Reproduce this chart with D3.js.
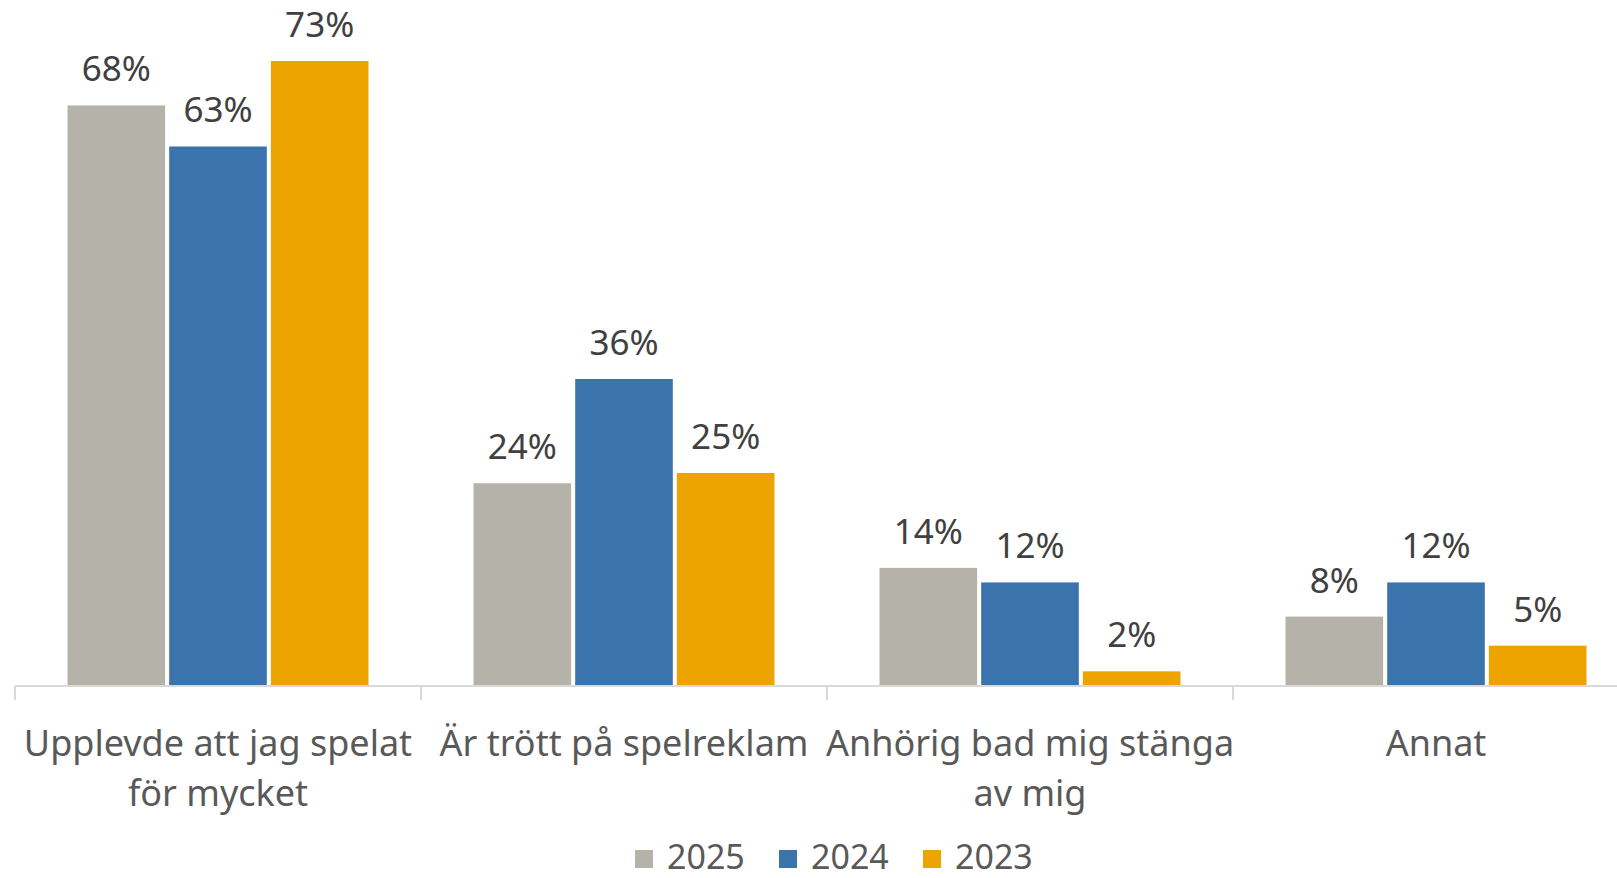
<!DOCTYPE html>
<html>
<head>
<meta charset="utf-8">
<script src="https://cdn.jsdelivr.net/npm/d3@7"></script>
<style>
  html, body { margin: 0; padding: 0; background: #fff; }
  svg { display: block; font-family: "Noto Sans", "Open Sans", sans-serif; }
</style>
</head>
<body>
<svg id="chart"></svg>
<script>
// categories and their (wrapped) tick labels
const categories = ['Upplevde att jag spelat för mycket', 'Är trött på spelreklam', 'Anhörig bad mig stänga av mig', 'Annat'];
const tickLabels = [
  ['Upplevde att jag spelat', 'för mycket'],
  ['Är trött på spelreklam'],
  ['Anhörig bad mig stänga', 'av mig'],
  ['Annat']
];
const years = ['2025', '2024', '2023'];
const colors = ['#b5b2aa', '#3b73ad', '#eda400'];

// values (percent)
const values2025 = [67.8, 23.6, 13.7, 8.0];
const values2024 = [63.0, 35.8, 12.0, 12.0];
const values2023 = [73.0, 24.8, 1.6, 4.6];
const labels2025 = ['68%', '24%', '14%', '8%'];
const labels2024 = ['63%', '36%', '12%', '12%'];
const labels2023 = ['73%', '25%', '2%', '5%'];

const width = 1617;
const height = 878;
const baseline = 685;

const series = [
  { year: years[0], values: values2025, labels: labels2025 },
  { year: years[1], values: values2024, labels: labels2024 },
  { year: years[2], values: values2023, labels: labels2023 }
];

const svg = d3.select('#chart')
  .attr('width', width)
  .attr('height', height);

// scales
const x0 = d3.scaleBand()
  .domain(categories)
  .range([15, 1639])
  .paddingInner(0)
  .paddingOuter(0);

const x1 = d3.scaleBand()
  .domain(years)
  .range([52.5, x0.bandwidth() - 52.5])
  .paddingInner(0.04);

const y = d3.scaleLinear()
  .domain([0, 73])
  .range([baseline, 61]);

// bars
const groups = svg.selectAll('g.cat')
  .data(categories)
  .join('g')
  .attr('class', 'cat')
  .attr('transform', d => `translate(${x0(d)},0)`);

series.forEach((s, si) => {
  groups.append('rect')
    .attr('x', x1(s.year))
    .attr('width', x1.bandwidth())
    .attr('y', (d, i) => y(s.values[i]))
    .attr('height', (d, i) => baseline - y(s.values[i]))
    .attr('fill', colors[si]);

  groups.append('text')
    .attr('x', x1(s.year) + x1.bandwidth() / 2)
    .attr('y', (d, i) => y(s.values[i]) - 24)
    .attr('text-anchor', 'middle')
    .attr('font-size', 35)
    .attr('fill', '#404040')
    .text((d, i) => s.labels[i]);
});

// x axis
const axis = svg.append('g')
  .attr('transform', `translate(0,${baseline + 1})`)
  .call(d3.axisBottom(x0).tickSize(0).tickFormat(''));

axis.select('.domain')
  .attr('stroke', '#d9d9d9')
  .attr('stroke-width', 2)
  .attr('d', `M15,0H1639`);

const boundaries = categories.map(c => x0(c));
axis.selectAll('line.sep')
  .data(boundaries)
  .join('line')
  .attr('class', 'sep')
  .attr('x1', d => d)
  .attr('x2', d => d)
  .attr('y1', 0)
  .attr('y2', 14)
  .attr('stroke', '#d9d9d9')
  .attr('stroke-width', 2);

// category labels
svg.append('g')
  .selectAll('text')
  .data(categories)
  .join('text')
  .attr('text-anchor', 'middle')
  .attr('font-size', 36)
  .attr('fill', '#595959')
  .each(function (d, i) {
    const t = d3.select(this);
    tickLabels[i].forEach((line, li) => {
      t.append('tspan')
        .attr('x', x0(d) + x0.bandwidth() / 2)
        .attr('y', 756 + li * 50)
        .text(line);
    });
  });

// legend
const legend = svg.append('g')
  .selectAll('g')
  .data(years)
  .join('g')
  .attr('transform', (d, i) => `translate(${635 + i * 144},850)`);

legend.append('rect')
  .attr('width', 18)
  .attr('height', 18)
  .attr('fill', (d, i) => colors[i]);

legend.append('text')
  .attr('x', 32)
  .attr('y', 19)
  .attr('font-size', 34)
  .attr('fill', '#595959')
  .text(d => d);
</script>
</body>
</html>
